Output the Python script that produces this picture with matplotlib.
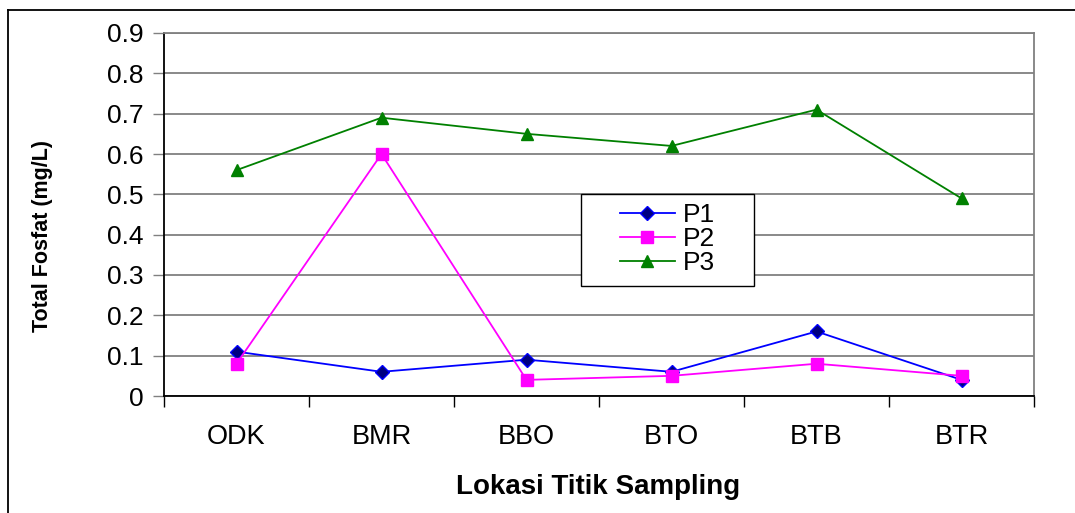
import matplotlib.pyplot as plt
from matplotlib.lines import Line2D
from matplotlib.patches import Rectangle

plt.rcParams['font.family'] = ['Liberation Sans', 'DejaVu Sans']

lokasi = ["ODK", "BMR", "BBO", "BTO", "BTB", "BTR"]
p1 = [0.11, 0.06, 0.09, 0.06, 0.16, 0.04]
p2 = [0.08, 0.60, 0.04, 0.05, 0.08, 0.05]
p3 = [0.56, 0.69, 0.65, 0.62, 0.71, 0.49]
y_ticks = [0, 0.1, 0.2, 0.3, 0.4, 0.5, 0.6, 0.7, 0.8, 0.9]

fig = plt.figure(figsize=(10.75, 5.13), dpi=100)
ax = fig.add_axes([164 / 1075, 1 - 396 / 513, 870 / 1075, 363 / 513])

x = list(range(len(lokasi)))
ax.plot(x, p1, color="#0000FF", lw=1.3, marker="D", ms=7.5,
        markerfacecolor="#000080", markeredgecolor="#0000FF", label="P1", zorder=3)
ax.plot(x, p2, color="#FF00FF", lw=1.3, marker="s", ms=9,
        markerfacecolor="#FF00FF", markeredgecolor="#FF00FF", label="P2", zorder=3)
ax.plot(x, p3, color="#008000", lw=1.3, marker="^", ms=9,
        markerfacecolor="#008000", markeredgecolor="#008000", label="P3", zorder=3)

ax.set_xlim(-0.5, len(lokasi) - 0.5)
ax.set_ylim(0, 0.9)
ax.set_yticks(y_ticks)
ax.set_yticklabels([f"{v:g}" for v in y_ticks], fontsize=19)
ax.yaxis.grid(True, color="#808080", lw=1.3)
ax.set_axisbelow(True)

ax.set_xticks([i + 0.5 for i in range(-1, len(lokasi))])
ax.set_xticklabels([])
ax.set_xticks(x, minor=True)
ax.set_xticklabels(lokasi, minor=True, fontsize=19.5)
ax.tick_params(axis="x", which="major", direction="out", length=8, width=1, color="black")
ax.tick_params(axis="x", which="minor", length=0, pad=20)
ax.tick_params(axis="y", direction="out", length=8, width=1, color="#808080", pad=7)

for s in ["top", "right"]:
    ax.spines[s].set_color("#808080")
    ax.spines[s].set_linewidth(1.3)
for s in ["left", "bottom"]:
    ax.spines[s].set_color("black")
    ax.spines[s].set_linewidth(1.3)

ax.set_ylabel("Total Fosfat (mg/L)", fontsize=15.5, fontweight="bold")
ax.yaxis.set_label_coords(-0.128, 0.44)
ax.set_xlabel("Lokasi Titik Sampling", fontsize=20, fontweight="bold")
ax.xaxis.set_label_coords(0.499, -0.215)

# legend box
ax.add_patch(Rectangle((0.479, 0.303), 0.199, 0.253, transform=ax.transAxes,
                       facecolor="white", edgecolor="black", lw=1, zorder=4))
leg = ax.legend(loc="center", bbox_to_anchor=(0.5785, 0.432), fontsize=19,
                frameon=False, labelspacing=0.0, handlelength=2.1,
                handletextpad=0.3, borderpad=0)
leg.set_zorder(5)

fig.add_artist(Line2D([8 / 1075, 8 / 1075], [0, 1 - 10 / 513], color="black", lw=1.3))
fig.add_artist(Line2D([8 / 1075, 1], [1 - 10 / 513, 1 - 10 / 513], color="black", lw=1.3))

fig.savefig("out.png", dpi=100)
